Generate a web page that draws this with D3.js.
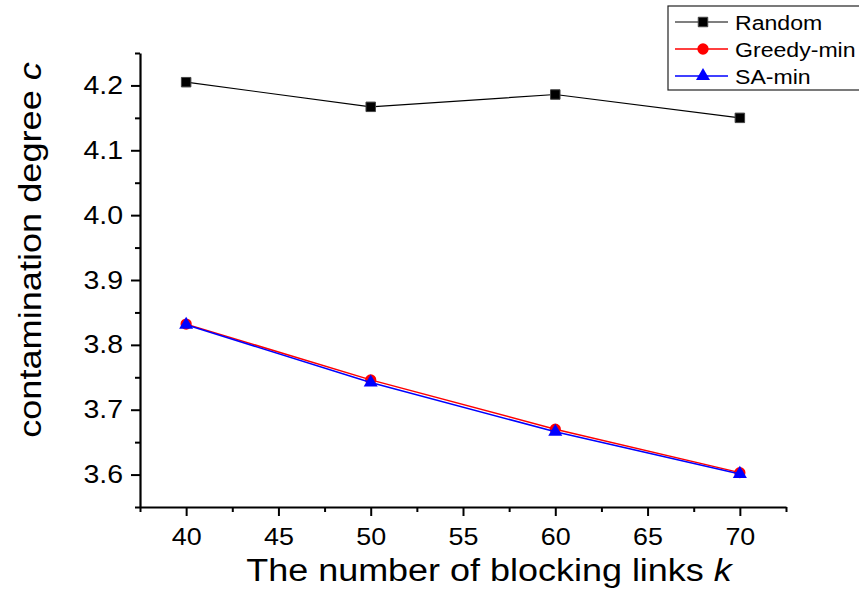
<!DOCTYPE html>
<html>
<head>
<meta charset="utf-8">
<script src="https://cdn.jsdelivr.net/npm/d3@7"></script>
<style>
  body { margin: 0; background: #fff; }
  svg text { font-family: Arial, "Liberation Sans", sans-serif; }
</style>
</head>
<body>
<div id="chart"></div>
<script>
const links = [40, 50, 60, 70];
const randomVals = [4.205, 4.167, 4.186, 4.150];
const greedyVals = [3.832, 3.746, 3.670, 3.603];
const saVals = [3.831, 3.742, 3.666, 3.601];
const xTicks = [40, 45, 50, 55, 60, 65, 70];
const yTicks = [3.6, 3.7, 3.8, 3.9, 4.0, 4.1, 4.2];

const W = 859, H = 593;
const margin = { top: 53, right: 73, bottom: 86, left: 140 };
const width = W - margin.left - margin.right;
const height = H - margin.top - margin.bottom;

// the original's lettering is wider than Liberation Sans, so stretch it a bit
function stretch(sel, sx) {
  sel.each(function () {
    const t = d3.select(this);
    const x0 = +t.attr('x') || 0;
    t.attr('x', x0 / sx).attr('transform', `scale(${sx},1)`);
  });
}

const svg = d3.select('#chart').append('svg')
  .attr('width', W).attr('height', H);

const g = svg.append('g')
  .attr('transform', 'translate(' + margin.left + ',' + margin.top + ')');

const x = d3.scaleLinear().domain([37.5, 72.5]).range([0, width]);
const y = d3.scaleLinear().domain([3.55, 4.25]).range([height, 0]);

// minor ticks
g.append('g')
  .attr('transform', `translate(0, ${height})`)
  .call(d3.axisBottom(x).tickValues(d3.range(37.5, 73, 5)).tickSize(5).tickFormat(''))
  .call(a => a.select('.domain').remove())
  .selectAll('line').attr('stroke-width', 2);
g.append('g')
  .call(d3.axisLeft(y).tickValues(d3.range(3.55, 4.26, 0.1)).tickSize(5).tickFormat(''))
  .call(a => a.select('.domain').remove())
  .selectAll('line').attr('stroke-width', 2);

// major axes
const xAxis = g.append('g')
  .attr('transform', `translate(0, ${height})`)
  .call(d3.axisBottom(x).tickValues(xTicks).tickSize(9).tickPadding(12).tickSizeOuter(0));
xAxis.select('.domain').attr('stroke-width', 2.2);
xAxis.selectAll('line').attr('stroke-width', 2);
xAxis.selectAll('text').attr('font-size', 24).attr('fill', '#000').call(stretch, 1.12);

const yAxis = g.append('g')
  .call(d3.axisLeft(y).tickValues(yTicks).tickSize(9).tickPadding(8).tickSizeOuter(0).tickFormat(d3.format('.1f')));
yAxis.select('.domain').attr('stroke-width', 2.2);
yAxis.selectAll('line').attr('stroke-width', 2);
yAxis.selectAll('text').attr('font-size', 25).attr('fill', '#000').call(stretch, 1.14);

// titles
const xt = svg.append('text')
  .attr('x', 489).attr('y', 581)
  .attr('text-anchor', 'middle')
  .attr('font-size', 31)
  .attr('fill', '#000');
xt.append('tspan').text('The number of blocking links ');
xt.append('tspan').attr('font-style', 'italic').text('k');
stretch(xt, 1.16);

const yt = svg.append('text')
  .attr('transform', 'translate(41, 250) rotate(-90) scale(1.13,1)')
  .attr('text-anchor', 'middle')
  .attr('font-size', 32)
  .attr('fill', '#000');
yt.append('tspan').text('contamination degree ');
yt.append('tspan').attr('font-style', 'italic').text('c');

// series
const series = [
  { name: 'Random', values: randomVals, color: '#000', marker: 'square', width: 1.2 },
  { name: 'Greedy-min', values: greedyVals, color: '#ff0000', marker: 'circle', width: 1.5 },
  { name: 'SA-min', values: saVals, color: '#0000ff', marker: 'triangle', width: 1.5 }
];

const symbols = { square: d3.symbolSquare, circle: d3.symbolCircle, triangle: d3.symbolTriangle };
const symSize = { square: 90, circle: 100, triangle: 85 };

const line = d3.line().x(d => x(d[0])).y(d => y(d[1]));

series.forEach(s => {
  const pts = links.map((k, i) => [k, s.values[i]]);
  g.append('path')
    .datum(pts)
    .attr('fill', 'none')
    .attr('stroke', s.color)
    .attr('stroke-width', s.width)
    .attr('d', line);
  g.append('g').selectAll('path')
    .data(pts)
    .enter()
    .append('path')
    .attr('transform', d => `translate(${x(d[0])}, ${y(d[1])})`)
    .attr('d', d3.symbol().type(symbols[s.marker]).size(symSize[s.marker]))
    .attr('fill', s.color)
    .attr('stroke', s.marker === 'square' ? '#444' : 'none')
    .attr('stroke-width', 1);
});

// legend
const legend = svg.append('g');
legend.append('rect')
  .attr('x', 668).attr('y', 6)
  .attr('width', 220).attr('height', 84)
  .attr('fill', '#fff')
  .attr('stroke', '#222')
  .attr('stroke-width', 1.2);

series.forEach((s, i) => {
  const ly = 22 + i * 27;
  legend.append('line')
    .attr('x1', 675).attr('x2', 728)
    .attr('y1', ly).attr('y2', ly)
    .attr('stroke', s.color)
    .attr('stroke-width', s.width);
  legend.append('path')
    .attr('transform', `translate(703, ${ly})`)
    .attr('d', d3.symbol().type(symbols[s.marker]).size(symSize[s.marker]))
    .attr('fill', s.color)
    .attr('stroke', s.marker === 'square' ? '#444' : 'none');
  legend.append('text')
    .attr('x', 735).attr('y', ly + 8)
    .attr('font-size', 21)
    .attr('fill', '#000')
    .text(s.name)
    .call(stretch, 1.1);
});
</script>
</body>
</html>
